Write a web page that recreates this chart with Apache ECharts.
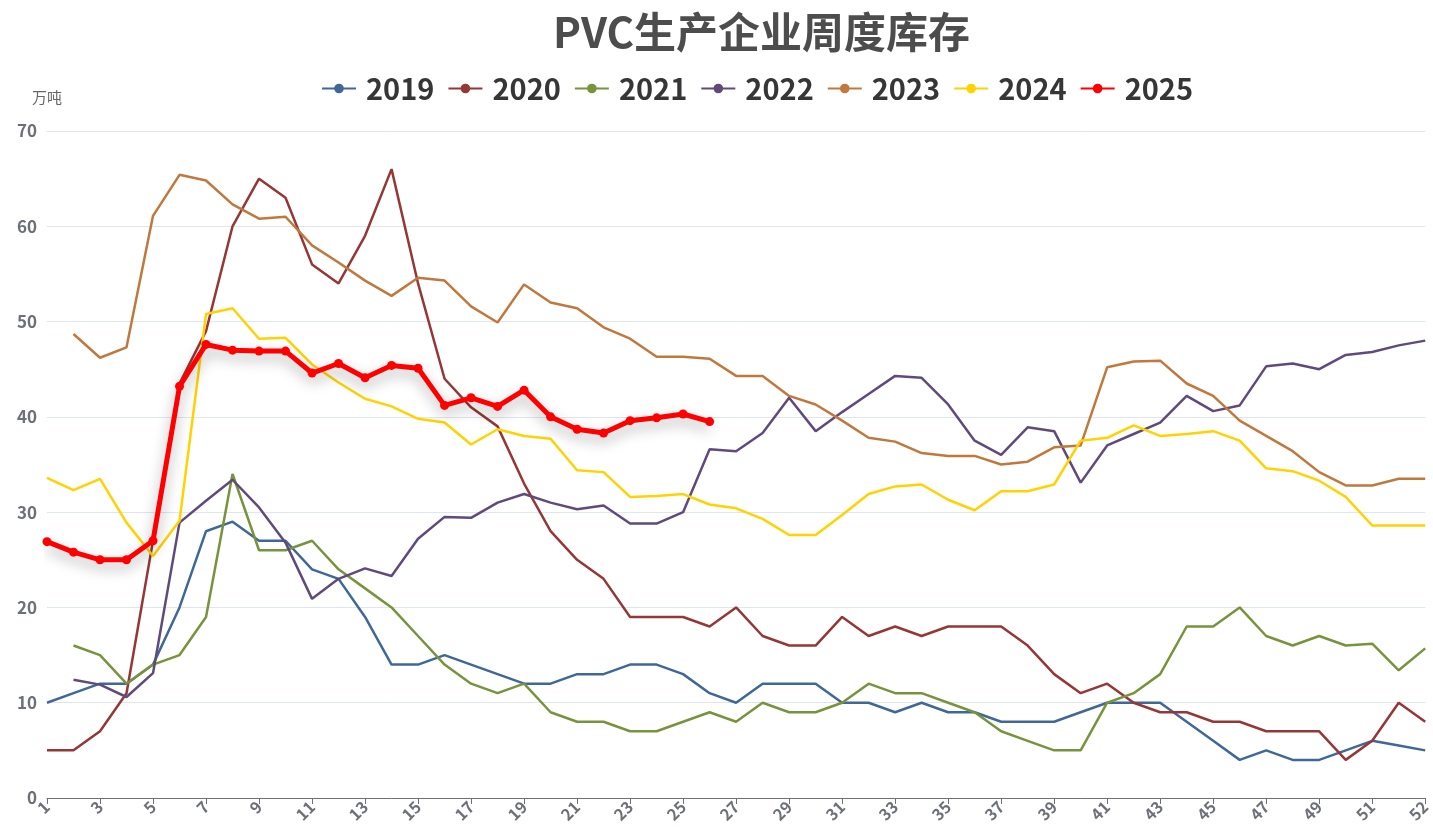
<!DOCTYPE html>
<html lang="zh">
<head>
  <meta charset="UTF-8">
  <title>PVC生产企业周度库存</title>
  <script src="https://cdn.jsdelivr.net/npm/echarts@6/dist/echarts.min.js"></script>
  <style>
    html, body { margin: 0; padding: 0; background: #fff; }
    #main { width: 1433px; height: 829px; }
  </style>
</head>
<body>
<div id="main"></div>
<script>
// 周序号（最后两周数据源里都记作 52）
var weeks = ['1','2','3','4','5','6','7','8','9','10','11','12','13','14','15','16','17','18','19','20',
  '21','22','23','24','25','26','27','28','29','30','31','32','33','34','35','36','37','38','39','40',
  '41','42','43','44','45','46','47','48','49','50','51','52','52'];

var y2019 = [10,11,12,12,14,20,28,29,27,27,24,23,19,14,14,15,14,13,12,12,13,13,14,14,13,11,10,12,12,12,
  10,10,9,10,9,9,8,8,8,9,10,10,10,8,6,4,5,4,4,5,6,5.5,5];
var y2020 = [5,5,7,11,27,43.5,49,60,65,63,56,54,59,66,54,44,41,39,33,28,25,23,19,19,19,18,20,17,16,16,
  19,17,18,17,18,18,18,16,13,11,12,10,9,9,8,8,7,7,7,4,6,10,8];
var y2021 = [null,16,15,12,14,15,19,34,26,26,27,24,22,20,17,14,12,11,12,9,8,8,7,7,8,9,8,10,9,9,
  10,12,11,11,10,9,7,6,5,5,10,11,13,18,18,20,17,16,17,16,16.2,13.4,15.7];
var y2022 = [null,12.4,11.9,10.6,13.1,28.9,31.2,33.4,30.5,26.8,20.9,23,24.1,23.3,27.2,29.5,29.4,31,31.9,31,
  30.3,30.7,28.8,28.8,30,36.6,36.4,38.3,42,38.5,40.5,42.4,44.3,44.1,41.3,37.5,36,38.9,38.5,33.1,
  37,38.2,39.4,42.2,40.6,41.2,45.3,45.6,45,46.5,46.8,47.5,48];
var y2023 = [null,48.7,46.2,47.3,61.1,65.4,64.8,62.3,60.8,61,58,56.2,54.3,52.7,54.6,54.3,51.6,49.9,53.9,52,
  51.4,49.4,48.2,46.3,46.3,46.1,44.3,44.3,42.2,41.3,39.6,37.8,37.4,36.2,35.9,35.9,35,35.3,36.8,37,
  45.2,45.8,45.9,43.5,42.2,39.6,38,36.4,34.2,32.8,32.8,33.5,33.5];
var y2024 = [33.6,32.3,33.5,28.9,25.4,29.1,50.8,51.4,48.2,48.3,45.5,43.6,41.9,41.1,39.8,39.4,37.1,38.7,38,37.7,
  34.4,34.2,31.6,31.7,31.9,30.8,30.4,29.3,27.6,27.6,29.7,31.9,32.7,32.9,31.3,30.2,32.2,32.2,32.9,37.5,
  37.8,39.1,38,38.2,38.5,37.5,34.6,34.3,33.3,31.6,28.6,28.6,28.6];
var y2025 = [26.9,25.8,25,25,27,43.2,47.6,47,46.9,46.9,44.6,45.6,44.1,45.4,45.1,41.2,42,41.1,42.8,40,
  38.7,38.3,39.6,39.9,40.3,39.5];

var years = ['2019','2020','2021','2022','2023','2024','2025'];
var colors = ['#3f6899','#953735','#77933c','#604a7b','#c0783c','#ffd200','#ff0000'];
var allData = [y2019, y2020, y2021, y2022, y2023, y2024, y2025];

var fontCN = '"Noto Sans CJK SC", "Noto Sans", sans-serif';

var series = years.map(function (name, i) {
  var isNow = (name === '2025');
  return {
    name: name,
    type: 'line',
    data: allData[i],
    symbol: 'circle',
    symbolSize: isNow ? 9 : 8,
    showSymbol: isNow,
    z: isNow ? 10 : 2,
    itemStyle: { color: colors[i] },
    lineStyle: isNow ? {
      width: 5,
      color: colors[i],
      shadowColor: 'rgba(0,0,0,0.35)',
      shadowBlur: 14,
      shadowOffsetY: 6
    } : { width: 2.5, color: colors[i] },
    emphasis: { disabled: true }
  };
});

var chart = echarts.init(document.getElementById('main'));
chart.setOption({
  animation: false,
  color: colors,
  title: {
    text: 'PVC生产企业周度库存',
    left: 548,
    top: 6,
    textStyle: { fontFamily: fontCN, fontSize: 42, fontWeight: 'bold', color: '#4d4d4d' }
  },
  legend: {
    top: 69,
    left: 316,
    itemWidth: 34,
    itemHeight: 12,
    itemGap: 13,
    textStyle: { fontFamily: fontCN, fontSize: 29, fontWeight: 'bold', color: '#363636', padding: [0, 0, 0, 5] },
    data: years
  },
  grid: { left: 47, right: 5, top: 131, bottom: 31 },
  xAxis: {
    type: 'category',
    data: weeks,
    boundaryGap: false,
    axisLine: { lineStyle: { color: '#6e7079' } },
    axisTick: { interval: 1, length: 6 },
    axisLabel: {
      interval: 1,
      rotate: 45,
      fontFamily: fontCN,
      fontSize: 16,
      fontWeight: 'bold',
      color: '#6e7079',
      margin: 6
    }
  },
  yAxis: {
    type: 'value',
    min: 0,
    max: 70,
    interval: 10,
    name: '万吨',
    nameGap: 26,
    nameTextStyle: { fontFamily: fontCN, fontSize: 15, color: '#666' },
    axisLabel: { fontFamily: fontCN, fontSize: 17, fontWeight: 'bold', color: '#6e7079', margin: 10 },
    splitLine: { lineStyle: { color: '#e0e6f1' } }
  },
  series: series
});
</script>
</body>
</html>
